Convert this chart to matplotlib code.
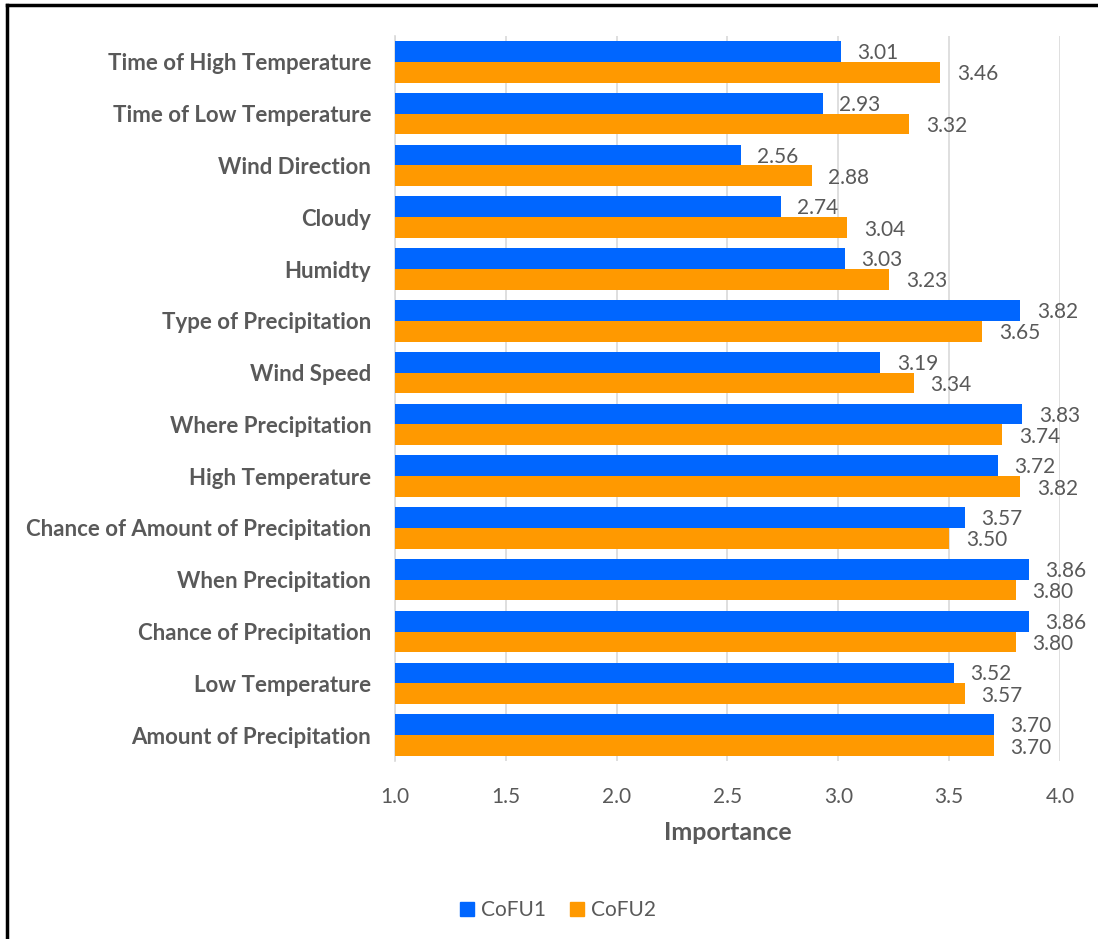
import matplotlib
matplotlib.use("Agg")
import matplotlib.pyplot as plt
from matplotlib.lines import Line2D
import numpy as np

categories = [
    "Time of High Temperature",
    "Time of Low Temperature",
    "Wind Direction",
    "Cloudy",
    "Humidty",
    "Type of Precipitation",
    "Wind Speed",
    "Where Precipitation",
    "High Temperature",
    "Chance of Amount of Precipitation",
    "When Precipitation",
    "Chance of Precipitation",
    "Low Temperature",
    "Amount of Precipitation",
]
cofu1 = [3.01, 2.93, 2.56, 2.74, 3.03, 3.82, 3.19, 3.83, 3.72, 3.57, 3.86, 3.86, 3.52, 3.70]
cofu2 = [3.46, 3.32, 2.88, 3.04, 3.23, 3.65, 3.34, 3.74, 3.82, 3.50, 3.80, 3.80, 3.57, 3.70]
series_names = ["CoFU1", "CoFU2"]
x_ticks = [1.0, 1.5, 2.0, 2.5, 3.0, 3.5, 4.0]

BLUE = "#0066FF"
ORANGE = "#FF9900"
TEXT = "#595959"
GRID = "#D9D9D9"

plt.rcParams["font.family"] = ["Lato", "DejaVu Sans"]

fig = plt.figure(figsize=(10.98, 9.39), dpi=100)
ax = fig.add_axes([0.3597, 0.1896, 0.6057, 0.7721])

n = len(categories)
y = np.arange(n)[::-1].astype(float)
h = 0.4

ax.barh(y + h / 2, cofu1, height=h, color=BLUE, zorder=3, label=series_names[0])
ax.barh(y - h / 2, cofu2, height=h, color=ORANGE, zorder=3, label=series_names[1])

for yi, v in zip(y, cofu1):
    ax.text(v + 0.075, yi + h / 2 - 0.03, f"{v:.2f}", va="center", ha="left",
            fontsize=15, color=TEXT)
for yi, v in zip(y, cofu2):
    ax.text(v + 0.075, yi - h / 2 - 0.04, f"{v:.2f}", va="center", ha="left",
            fontsize=15, color=TEXT)

ax.set_xlim(1.0, 4.0)
ax.set_ylim(-0.5, n - 0.5)
ax.set_xticks(x_ticks)
ax.set_xticklabels([f"{t:.1f}" for t in x_ticks], fontsize=15, color=TEXT)
ax.set_yticks(y)
ax.set_yticklabels(categories, fontsize=16, fontweight="bold", color=TEXT)
ax.tick_params(axis="both", length=0)
ax.tick_params(axis="x", pad=19)
ax.tick_params(axis="y", pad=17)

ax.grid(axis="x", color=GRID, linewidth=1.2, zorder=0)
for s in ["top", "right", "bottom"]:
    ax.spines[s].set_visible(False)
ax.spines["left"].set_color(GRID)
ax.spines["left"].set_linewidth(1.2)

ax.set_xlabel("Importance", fontsize=18, fontweight="bold", color=TEXT, labelpad=10)

handles = [
    Line2D([], [], marker="s", linestyle="none", markersize=9.5, color=BLUE),
    Line2D([], [], marker="s", linestyle="none", markersize=9.5, color=ORANGE),
]
fig.legend(handles, series_names, loc="center", bbox_to_anchor=(0.508, 0.031),
           ncol=2, frameon=False, fontsize=15, labelcolor=TEXT,
           handlelength=0.7, handletextpad=0.35, columnspacing=1.1)

# frame lines along the top and left edges
fig.add_artist(Line2D([0.0064, 1.0], [0.9947, 0.9947], color="black", linewidth=2.5,
                      transform=fig.transFigure))
fig.add_artist(Line2D([0.0064, 0.0064], [0.0, 0.9947], color="black", linewidth=2.5,
                      transform=fig.transFigure))

fig.savefig("out.png", dpi=100, facecolor="white")
